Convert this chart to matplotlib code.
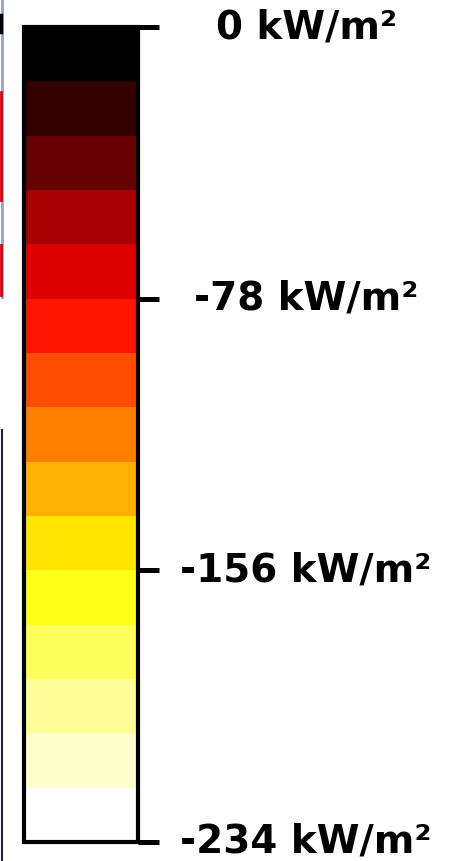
"""
Discrete colorbar for heat flux (kW/m2), 15 steps from black to white.
Saves out.png (453x861 px).
"""
import matplotlib
matplotlib.use("Agg")
import matplotlib.pyplot as plt
from matplotlib import colors
from matplotlib import colorbar
from matplotlib.lines import Line2D

# band edges (kW/m2), bottom -> top
BAND_EDGES = [-234.0, -218.4, -202.8, -187.2, -171.6, -156.0, -140.4, -124.8,
              -109.2, -93.6, -78.0, -62.4, -46.8, -31.2, -15.6, 0.0]
# band colours, bottom (most negative) -> top (zero)
BAND_COLORS = ["#ffffff", "#ffffcc", "#ffff99", "#ffff5a", "#ffff1a",
               "#ffe600", "#ffb000", "#ff8000", "#ff4d00", "#ff1500",
               "#dd0000", "#a80000", "#660000", "#330000", "#000000"]
TICK_VALUES = [0, -78, -156, -234]
TICK_LABELS = ["0 kW/m\u00b2", "-78 kW/m\u00b2", "-156 kW/m\u00b2", "-234 kW/m\u00b2"]

W, H, DPI = 453, 861, 100


def draw_cropped_edges(fig):
    # bits of neighbouring panels cut off at the left border
    def vline(x, y0, y1, color, lw):
        fig.add_artist(Line2D([x / W, x / W], [1 - y0 / H, 1 - y1 / H],
                              transform=fig.transFigure, color=color, lw=lw))
    vline(2, 0, 297, "#9aa0c8", 2.0)
    vline(1, 92, 200, "#dd0000", 2.0)
    vline(1, 245, 295, "#dd0000", 2.0)
    vline(1, 15, 32, "#000000", 2.5)
    vline(2, 430, 861, "#20204a", 1.5)


def main():
    fig = plt.figure(figsize=(W / DPI, H / DPI), dpi=DPI)
    draw_cropped_edges(fig)

    cax = fig.add_axes([24 / W, 19 / H, 114 / W, 815 / H])
    cmap = colors.ListedColormap(BAND_COLORS)
    norm = colors.BoundaryNorm(BAND_EDGES, cmap.N)
    cb = colorbar.ColorbarBase(cax, cmap=cmap, norm=norm, orientation="vertical",
                               ticks=TICK_VALUES, spacing="uniform")
    cb.outline.set_linewidth(3.0)
    cb.outline.set_edgecolor("black")
    cb.set_ticklabels(TICK_LABELS)

    cax.yaxis.set_ticks_position("right")
    cax.tick_params(axis="y", which="major", length=15, width=3.6,
                    direction="out", color="black", pad=106)
    cax.tick_params(axis="y", which="minor", length=0)
    for lab in cax.get_yticklabels():
        lab.set_horizontalalignment("center")
        lab.set_verticalalignment("center")
        lab.set_fontsize(28)
        lab.set_fontweight("bold")
        lab.set_family("DejaVu Sans")

    fig.savefig("out.png", dpi=DPI)
    plt.close(fig)
    print("saved out.png")


if __name__ == "__main__":
    main()
